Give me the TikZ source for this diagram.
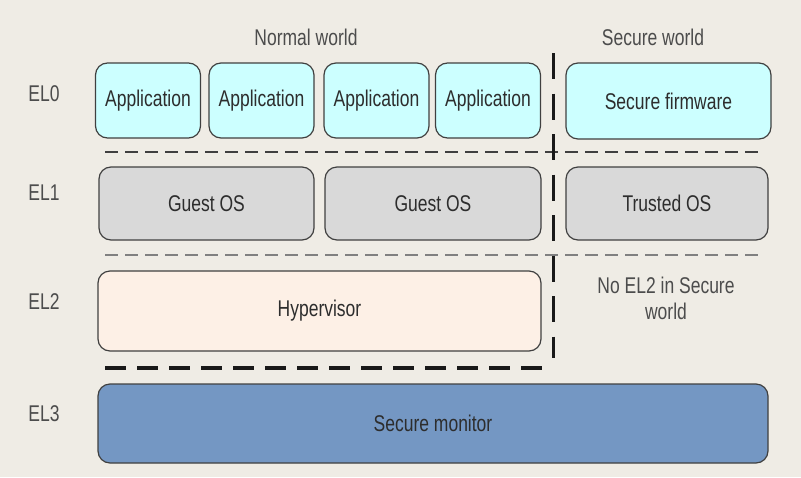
\documentclass[tikz,border=0pt]{standalone}
\usepackage{fontspec}
\setmainfont{Liberation Sans}
\usepackage{tikz}
\definecolor{pagebg}{RGB}{239,236,229}
\definecolor{appcyan}{RGB}{204,255,255}
\definecolor{osgrey}{RGB}{217,217,217}
\definecolor{hypcream}{RGB}{253,240,230}
\definecolor{monblue}{RGB}{116,151,195}
\definecolor{edgegrey}{RGB}{64,64,64}
\definecolor{textgrey}{RGB}{45,45,45}
\newcommand{\tall}[1]{\scalebox{1}[1.3]{#1}}

\begin{document}
\begin{tikzpicture}[x=1pt, y=-1pt,
  layer/.style={draw=edgegrey, line width=1.2pt, rectangle, rounded corners=12pt, text=textgrey, font=\fontsize{17.5}{20}\selectfont},
  app/.style={layer, fill=appcyan, minimum width=105pt, minimum height=75pt},
  os/.style={layer, fill=osgrey, minimum height=73pt},
  plain/.style={text=textgrey!85, font=\fontsize{17.5}{20}\selectfont},
  levelsep/.style={line width=2.5pt, dash pattern=on 13pt off 7pt}]
\fill[pagebg] (0,0) rectangle (801,477);
\useasboundingbox (0,0) rectangle (801,477);
% headings
\node[plain] (normal) at (306,37) {\tall{Normal world}};
\node[plain] (secure) at (653,37) {\tall{Secure world}};
% exception levels
\node[plain] (el0) at (44,94) {\tall{EL0}};
\node[plain] (el1) at (44,193) {\tall{EL1}};
\node[plain] (el2) at (44,302) {\tall{EL2}};
\node[plain] (el3) at (44,414) {\tall{EL3}};
% EL0
\node[app] (app1) at (148,100.5) {\tall{Application}};
\node[app] (app2) at (261.5,100.5) {\tall{Application}};
\node[app] (app3) at (376.5,100.5) {\tall{Application}};
\node[app] (app4) at (488,100.5) {\tall{Application}};
\node[app, minimum width=205pt, minimum height=76pt] (firmware) at (668.5,101) {\tall{Secure firmware}};
% EL1
\node[os, minimum width=215pt] (guest1) at (206.5,203.5) {\tall{Guest OS}};
\node[os, minimum width=216pt] (guest2) at (433,203.5) {\tall{Guest OS}};
\node[os, minimum width=202pt] (trusted) at (667,203.5) {\tall{Trusted OS}};
% EL2
\node[layer, fill=hypcream, minimum width=443pt, minimum height=80pt] (hyp) at (319.5,311) {\tall{Hypervisor}};
\node[plain] (noel2) at (666,301) {\tall{\begin{tabular}{@{}c@{}}No EL2 in Secure\\world\end{tabular}}};
% EL3
\node[layer, fill=monblue, draw=black!75, minimum width=670pt, minimum height=79pt] (monitor) at (433,423.5) {\tall{Secure monitor}};
% separators
\draw[levelsep, edgegrey] (105,152) -- (760,152);
\draw[levelsep, black!50] (105,255) -- (760,255);
\draw[black!90, line width=3.5pt, dash pattern=on 21pt off 11pt] (105,368) -- (543,368);
\draw[black!90, line width=3pt, dash pattern=on 26pt off 14.5pt] (553,53) -- (553,358);
\end{tikzpicture}
\end{document}
